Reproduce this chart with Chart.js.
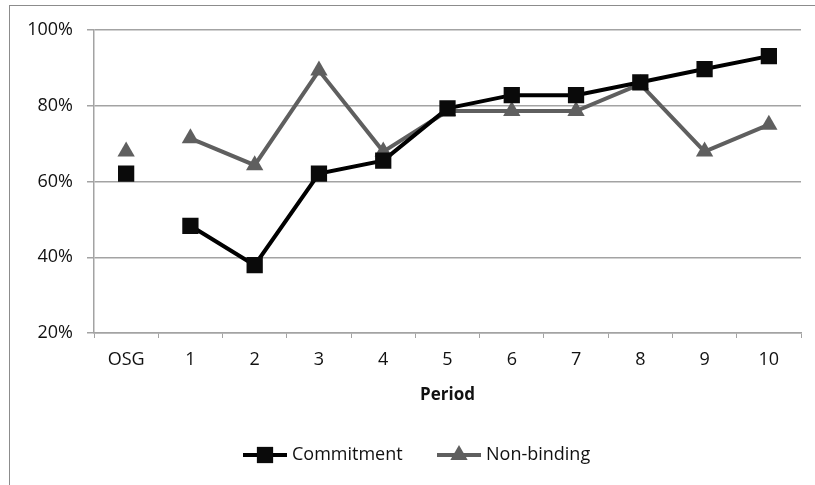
<!DOCTYPE html>
<html>
<head>
<meta charset="utf-8">
<script src="https://cdn.jsdelivr.net/npm/chart.js"></script>
<style>
  body { margin: 0; background: #fff; }
  #wrap { width: 815px; height: 485px; }
</style>
</head>
<body>
<div id="wrap"><canvas id="myChart" width="815" height="485"></canvas></div>
<script>
// categories and series (percent)
const periods = ['OSG', '1', '2', '3', '4', '5', '6', '7', '8', '9', '10'];
const commitment = [62.1, 48.3, 37.9, 62.1, 65.5, 79.3, 82.8, 82.8, 86.2, 89.7, 93.1];
const nonBinding = [67.9, 71.4, 64.3, 89.3, 67.9, 78.6, 78.6, 78.6, 85.7, 67.9, 75.0];
const yTicks = [20, 40, 60, 80, 100];

const FONT = '"Open Sans", sans-serif';
const GRID = '#a3a3a3';

// OSG stands alone, no line joins it to period 1
function skipFirst(color) {
    return ctx => ctx.p0DataIndex === 0 ? 'rgba(0,0,0,0)' : color;
}

// outer frame of the chart
const framePlugin = {
    id: 'frame',
    beforeDraw(chart) {
        const ctx = chart.ctx;
        ctx.save();
        ctx.strokeStyle = '#8c8c8c';
        ctx.lineWidth = 1;
        ctx.strokeRect(9.5, 5.5, 900, 900);
        ctx.restore();
    }
};

// legend with line + marker like the original
const legendPlugin = {
    id: 'lineLegend',
    afterDraw(chart) {
        const ctx = chart.ctx;
        const y = 455;
        const items = [
            { x: 243, ds: chart.data.datasets[0] },
            { x: 437, ds: chart.data.datasets[1] }
        ];
        ctx.save();
        items.forEach(it => {
            ctx.strokeStyle = it.ds.borderColor;
            ctx.lineWidth = it.ds.borderWidth;
            ctx.beginPath();
            ctx.moveTo(it.x, y);
            ctx.lineTo(it.x + 44, y);
            ctx.stroke();
            ctx.fillStyle = it.ds.pointBackgroundColor;
            ctx.strokeStyle = it.ds.pointBorderColor;
            Chart.helpers.drawPoint(ctx, {
                pointStyle: it.ds.pointStyle,
                radius: it.ds.pointRadius,
                borderWidth: 0,
                rotation: 0
            }, it.x + 22, y);
            ctx.fillStyle = '#111';
            ctx.font = '18px ' + FONT;
            ctx.textBaseline = 'middle';
            ctx.textAlign = 'left';
            ctx.fillText(it.ds.label, it.x + 49, y);
        });
        ctx.restore();
    }
};

const ctx = document.getElementById('myChart').getContext('2d');
new Chart(ctx, {
    type: 'line',
    data: {
        labels: periods,
        datasets: [
            {
                label: 'Commitment',
                data: commitment,
                borderColor: '#000000',
                borderWidth: 4,
                pointStyle: 'rect',
                pointRadius: 11.5,
                pointBackgroundColor: '#0a0a0a',
                pointBorderColor: '#0a0a0a',
                pointBorderWidth: 0,
                segment: { borderColor: skipFirst('#000000') },
                order: 1
            },
            {
                label: 'Non-binding',
                data: nonBinding,
                borderColor: '#5f5f5f',
                borderWidth: 4,
                pointStyle: 'triangle',
                pointRadius: 10,
                pointBackgroundColor: '#5f5f5f',
                pointBorderColor: '#5f5f5f',
                pointBorderWidth: 0,
                segment: { borderColor: skipFirst('#5f5f5f') },
                order: 2
            }
        ]
    },
    options: {
        responsive: false,
        animation: false,
        devicePixelRatio: 1,
        layout: { padding: { left: 0, right: 14, top: 30, bottom: 72 } },
        plugins: {
            legend: { display: false },
            tooltip: { enabled: false }
        },
        scales: {
            x: {
                type: 'category',
                offset: true,
                grid: { offset: true, drawOnChartArea: false, drawTicks: true, tickLength: 5, color: GRID },
                border: { color: GRID, width: 1.5 },
                ticks: { color: '#111', font: { family: FONT, size: 18 }, padding: 11, maxRotation: 0 },
                title: {
                    display: true,
                    text: 'Period',
                    color: '#111',
                    font: { family: FONT, size: 17, weight: 'bold' },
                    padding: { top: 0, bottom: 8 }
                },
                afterFit: scale => { scale.height = 80; }
            },
            y: {
                min: 20,
                max: 100,
                afterBuildTicks: scale => { scale.ticks = yTicks.map(v => ({ value: v })); },
                grid: { color: GRID, lineWidth: 1.5, tickLength: 7 },
                border: { color: GRID, width: 1.5 },
                ticks: {
                    color: '#111',
                    font: { family: FONT, size: 18 },
                    padding: 14,
                    callback: v => v + '%'
                },
                afterFit: scale => { scale.width = 94; }
            }
        }
    },
    plugins: [framePlugin, legendPlugin]
});
</script>
</body>
</html>
